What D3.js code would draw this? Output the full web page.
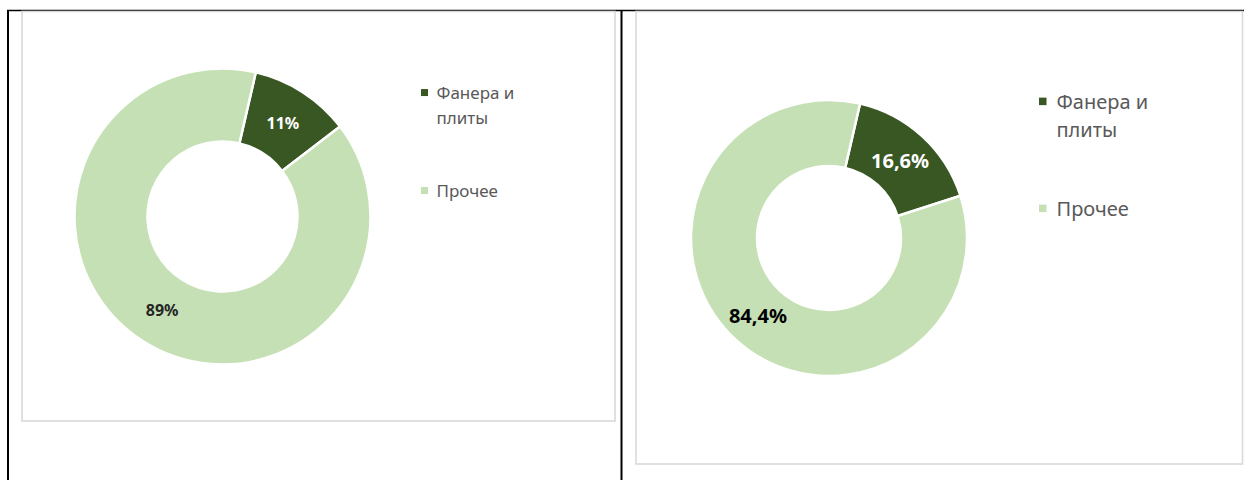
<!DOCTYPE html>
<head>
    <meta charset="utf-8">
    <title>Фанера и плиты</title>
    <script type="text/javascript" src="https://d3js.org/d3.v7.min.js"></script>
    <style>
        body { margin: 0; background: #fff; }
        svg { display: block; }
    </style>
</head>
<body>
<div id="container"></div>
<script>
    //-----------------------------DATA------------------------------//
    const categories = ["Фанера и плиты", "Прочее"];
    const legendLines = [["Фанера и", "плиты"], ["Прочее"]];
    const valuesLeft = [11, 89];
    const valuesRight = [16.6, 84.4];
    const labelsLeft = ["11%", "89%"];
    const labelsRight = ["16,6%", "84,4%"];
    const colors = ["#385723", "#c5e0b4"];

    //-----------------------------SVG-------------------------------//
    const width = 1244;
    const height = 480;

    const svg = d3.select("div#container").append("svg")
        .attr("width", width)
        .attr("height", height);

    // table lines around the two cells
    const frame = svg.append("g").attr("stroke", "#000").attr("stroke-width", 2);
    frame.append("line").attr("x1", 7).attr("x2", width).attr("y1", 10.5).attr("y2", 10.5).attr("stroke-width", 1.6);
    frame.append("line").attr("x1", 8).attr("x2", 8).attr("y1", 10).attr("y2", height);
    frame.append("line").attr("x1", 621.5).attr("x2", 621.5).attr("y1", 10).attr("y2", height);

    const charts = [
        {values: valuesLeft, labels: labelsLeft, labelColors: ["#ffffff", "#262626"],
         panel: {x: 22, y: 11.5, w: 593, h: 409.5},
         cx: 222.5, cy: 216.5, outer: 148, inner: 75, labelSize: 16,
         legend: {x: 421, y: 99, size: 17, lineH: 25, gap: 98, box: 7}},
        {values: valuesRight, labels: labelsRight, labelColors: ["#ffffff", "#000000"],
         panel: {x: 636, y: 11.5, w: 606.5, h: 452.5},
         cx: 829, cy: 238, outer: 138, inner: 72, labelSize: 20,
         legend: {x: 1039, y: 109, size: 20, lineH: 28, gap: 107, box: 7.5}}
    ];

    const pie = d3.pie()
        .sort(null)
        .startAngle(13 * Math.PI / 180)
        .endAngle(13 * Math.PI / 180 + 2 * Math.PI);

    charts.forEach(function(c) {
        const g = svg.append("g");

        //---------------------------PANEL---------------------------//
        g.append("rect")
            .attr("x", c.panel.x)
            .attr("y", c.panel.y)
            .attr("width", c.panel.w)
            .attr("height", c.panel.h)
            .attr("fill", "#fff")
            .attr("stroke", "#d9d9d9")
            .attr("stroke-width", 1.6);

        //---------------------------DONUT---------------------------//
        const arc = d3.arc().innerRadius(c.inner).outerRadius(c.outer);
        const arcs = pie(c.values);

        const donut = g.append("g")
            .attr("transform", "translate(" + c.cx + "," + c.cy + ")");

        donut.selectAll("path")
            .data(arcs)
            .enter()
            .append("path")
            .attr("d", arc)
            .attr("fill", function(d, i) { return colors[i]; })
            .attr("stroke", "#fff")
            .attr("stroke-width", 2.5);

        donut.selectAll("text")
            .data(arcs)
            .enter()
            .append("text")
            .attr("transform", function(d) { return "translate(" + arc.centroid(d) + ")"; })
            .attr("text-anchor", "middle")
            .attr("dy", "0.36em")
            .attr("font-family", "'Noto Sans', 'Open Sans', sans-serif")
            .attr("font-weight", "bold")
            .attr("font-size", c.labelSize)
            .attr("fill", function(d, i) { return c.labelColors[i]; })
            .text(function(d, i) { return c.labels[i]; });

        //---------------------------LEGEND--------------------------//
        const L = c.legend;
        const items = g.selectAll(".legend")
            .data(categories)
            .enter()
            .append("g")
            .attr("transform", function(d, i) { return "translate(" + L.x + "," + (L.y + i * L.gap) + ")"; });

        items.append("rect")
            .attr("x", 0)
            .attr("y", -L.size * 0.38 - L.box / 2)
            .attr("width", L.box)
            .attr("height", L.box)
            .attr("fill", function(d, i) { return colors[i]; });

        items.append("text")
            .attr("x", L.box + L.size * 0.5)
            .attr("font-family", "'Noto Sans', 'Open Sans', sans-serif")
            .attr("font-size", L.size)
            .attr("fill", "#595959")
            .selectAll("tspan")
            .data(function(d, i) { return legendLines[i]; })
            .enter()
            .append("tspan")
            .attr("x", L.box + L.size * 0.5)
            .attr("y", function(d, j) { return j * L.lineH; })
            .text(function(d) { return d; });
    });
</script>
</body>
